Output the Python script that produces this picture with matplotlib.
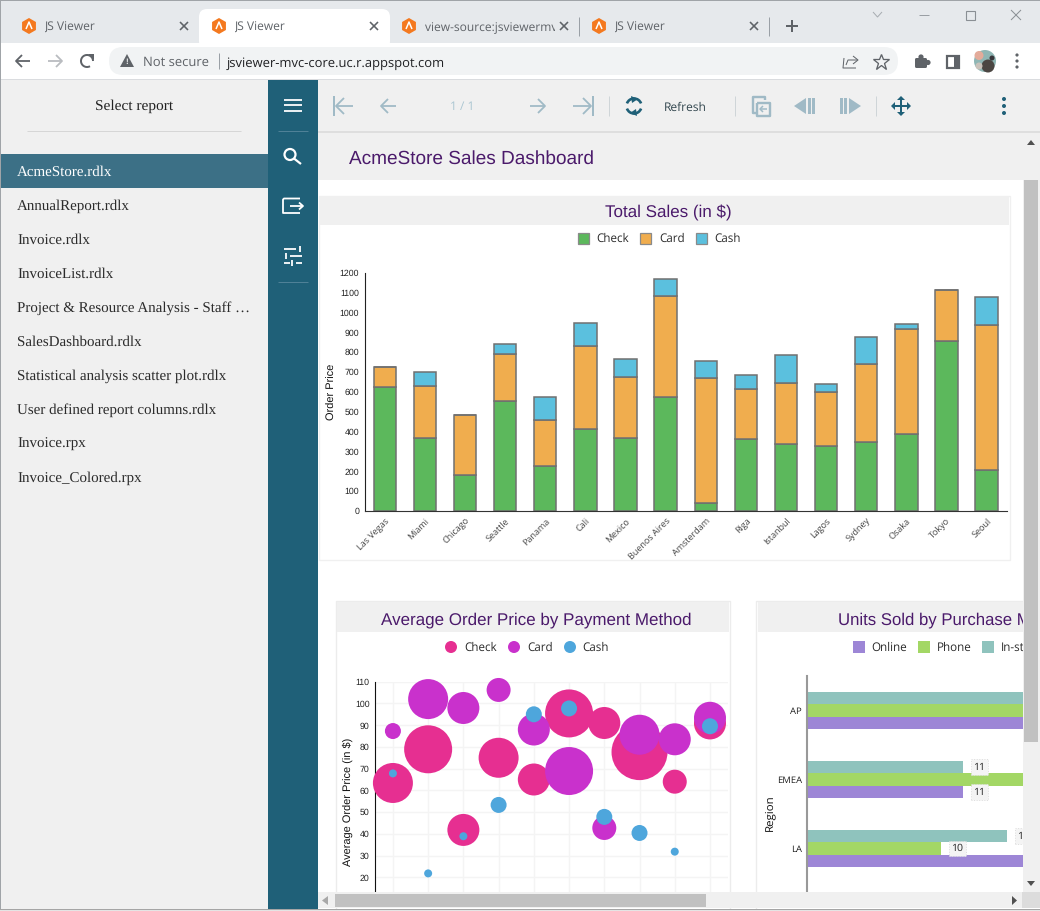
import matplotlib
matplotlib.use("Agg")
import matplotlib.pyplot as plt
from matplotlib.patches import Rectangle, FancyBboxPatch, Circle, Polygon, RegularPolygon, Arc

plt.rcParams["text.hinting"] = "no_hinting"

# ── Data ───────────────────────────────────────────────────────────────────
cities = ["Las Vegas", "Miami", "Chicago", "Seattle", "Panama", "Cali", "Mexico",
          "Buenos Aires", "Amsterdam", "Riga", "Istanbul", "Lagos", "Sydney",
          "Osaka", "Tokyo", "Seoul"]
sales_check = [622, 366, 181, 555, 226, 411, 366, 572, 42, 364, 337, 329, 347, 386, 854, 205]
sales_card = [104, 263, 304, 234, 232, 418, 310, 513, 629, 250, 306, 271, 395, 533, 257, 730]
sales_cash = [0, 72, 0, 51, 117, 116, 87, 83, 84, 69, 142, 41, 135, 24, 0, 144]
sales_series = ["Check", "Card", "Cash"]
sales_ticks = list(range(0, 1300, 100))

stores = [1, 2, 3, 4, 5, 6, 7, 8, 9, 10]
price_check = [63.4, 78.9, 41.8, 75.0, 65.0, 95.4, 91.0, 77.6, 64.0, 90.8]
size_check = [5, 6, 4, 5, 4, 6, 4, 7, 3, 4]
price_card = [87.3, 102.0, 97.9, 106.2, 88.0, 68.9, 42.7, 85.6, 83.5, 93.4]
size_card = [2, 5, 4, 3, 4, 6, 3, 5, 4, 4]
price_cash = [67.8, 21.8, 38.9, 53.3, 95.0, 97.7, 47.8, 40.4, 31.8, 89.5]
size_cash = [1, 1, 1, 2, 2, 2, 2, 2, 1, 2]
price_ticks = list(range(20, 120, 10))

regions = ["AP", "EMEA", "LA"]
units_series = ["Online", "Phone", "In-store"]
units_online = [18, 11, 14]
units_phone = [20, 15, 10]
units_instore = [16, 11, 13]

reports = ["AcmeStore.rdlx", "AnnualReport.rdlx", "Invoice.rdlx", "InvoiceList.rdlx",
           "Project & Resource Analysis - Staff …", "SalesDashboard.rdlx",
           "Statistical analysis scatter plot.rdlx", "User defined report columns.rdlx",
           "Invoice.rpx", "Invoice_Colored.rpx"]

# ── Canvas ─────────────────────────────────────────────────────────────────
W, H = 1040, 911
PX = 0.72  # one pixel in points at dpi 100
UI = "Open Sans"
SANS = "Liberation Sans"
SERIF = "Liberation Serif"
TEAL = "#1f6078"
FADED = "#a0bac6"
TITLE = "#4b1a6b"
GREY = "#5f6368"

fig = plt.figure(figsize=(W / 100, H / 100), dpi=100, facecolor="white")


def px_axes(l, t, r, b, zorder):
    return fig.add_axes([l / W, 1 - b / H, (r - l) / W, (b - t) / H], zorder=zorder)


bg = px_axes(0, 0, W, H, 0)
top = px_axes(0, 0, W, H, 6)
for a in (bg, top):
    a.set_xlim(0, W); a.set_ylim(H, 0); a.axis("off")
top.patch.set_alpha(0)


def rect(a, l, t, r, b, c, **kw):
    a.add_patch(Rectangle((l, t), r - l, b - t, facecolor=c, edgecolor="none", **kw))


def line(xs, ys, c, lw=1.5, a=bg, **kw):
    a.plot(xs, ys, color=c, lw=lw * PX, solid_capstyle=kw.pop("cap", "butt"), **kw)


def txt(x, y, s, size, c="#222222", fam=UI, ha="left", a=bg, **kw):
    # small shift down: browser text sits a little lower than va=center
    return a.text(x, y + 1.2, s, fontsize=size * PX, color=c, family=fam, ha=ha, va="center", **kw)


def arrow(x0, x1, y, c, lw=2, head=7, a=bg):
    # horizontal arrow pointing at x1
    d = head if x1 < x0 else -head
    line([x0, x1], [y, y], c, lw, a)
    line([x1 + d, x1, x1 + d], [y - head, y, y + head], c, lw, a)


# ── Browser chrome ─────────────────────────────────────────────────────────
rect(bg, 0, 0, W, 43, "#e6e9ec")
rect(bg, 0, 43, W, 79, "white")
bg.add_patch(FancyBboxPatch((199, 9), 191, 40, boxstyle="round,pad=0,rounding_size=8",
                            facecolor="white", edgecolor="none"))
rect(bg, 199, 43, 390, 50, "white")
bg.add_patch(FancyBboxPatch((109, 47), 789, 28, boxstyle="round,pad=0,rounding_size=14",
                            facecolor="#f1f3f4", edgecolor="none"))
rect(bg, 0, 79, W, 80, "#dadcdf")

for fx, tab_title, cx in [(29, "JS Viewer", 184), (219, "JS Viewer", 374),
                          (409, "view-source:jsviewermvc-core", 564), (599, "JS Viewer", 754)]:
    bg.add_patch(RegularPolygon((fx, 26), 6, radius=8, facecolor="#f4791f", edgecolor="none"))
    line([fx - 3, fx, fx + 3], [29, 22, 29], "white", 1.5)
    t = txt(fx + 16, 26.4, tab_title, 12, "#5f6368")
    t.set_clip_on(True)
    t.set_clip_path(Rectangle((fx + 16, 10), 130, 30, transform=bg.transData))
    line([cx - 4, cx + 4], [22, 30], GREY, 1.6)
    line([cx - 4, cx + 4], [30, 22], GREY, 1.6)
line([579, 579], [17, 36], "#9aa0a6", 1)
line([769, 769], [17, 36], "#9aa0a6", 1)
line([786, 798], [26, 26], GREY, 2)
line([792, 792], [20, 32], GREY, 2)
# window buttons
line([873, 877.5, 882], [12, 17, 12], "#a8adb2", 1)
line([919, 929], [15, 15], "#9a9fa4", 1)
bg.add_patch(Rectangle((965.5, 10.5), 9.5, 9.5, facecolor="none", edgecolor="#8a8f94", lw=0.8))
line([1011, 1021], [10, 20], "#8a8f94", 1)
line([1011, 1021], [20, 10], "#8a8f94", 1)

arrow(30, 16, 61, GREY, 1.8, 6)
arrow(48, 62, 61, "#b9bcc0", 1.8, 6)
bg.add_patch(Arc((87, 61), 12, 12, theta1=-300, theta2=0, color=GREY, lw=1.8 * PX * 1.1))
bg.add_patch(Polygon([[88, 54], [94, 54], [94, 60]], facecolor=GREY, edgecolor="none"))
bg.add_patch(Polygon([[120, 67], [134, 67], [127, 54]], facecolor=GREY, edgecolor="none"))
txt(127, 60.5, "!", 8, "#f1f3f4", fam=SANS, ha="center", weight="bold")
txt(143, 61, "Not secure", 13, GREY)
line([218.5, 218.5], [53, 69], "#9aa0a6", 1)
txt(227, 62, "jsviewer-mvc-core.uc.r.appspot.com", 13, "#202124")
# share, star, puzzle, side panel, avatar, menu
line([844, 843, 856], [58, 68, 68], GREY, 1)
line([846, 848, 857], [65, 60, 60], GREY, 1)
line([853, 858, 853], [56, 60, 64], GREY, 1)
bg.plot([881], [61.5], marker="*", ms=13 * PX * 1.3, mfc="none", mec=GREY, mew=1 * PX * 1.3)
bg.add_patch(FancyBboxPatch((915, 58), 12, 10, boxstyle="round,pad=0,rounding_size=1.5",
                            facecolor=GREY, edgecolor="none"))
bg.add_patch(Circle((921, 57), 2.6, facecolor=GREY, edgecolor="none"))
bg.add_patch(Circle((928, 62.5), 2.6, facecolor=GREY, edgecolor="none"))
bg.add_patch(Rectangle((947, 56), 12, 12, facecolor="white", edgecolor=GREY, lw=2 * PX * 1.1))
rect(bg, 954, 56, 960, 68, GREY)
bg.add_patch(Circle((985, 61), 11, facecolor="#8fb6b4", edgecolor="none"))
bg.add_patch(Circle((979, 55.5), 4.5, facecolor="#e3ab9a", edgecolor="none"))
bg.add_patch(Circle((988, 66), 6.5, facecolor="#4b4642", edgecolor="none"))
bg.add_patch(Circle((979, 66), 3.5, facecolor="#c9c2ba", edgecolor="none"))
bg.add_patch(Circle((992, 58), 2.5, facecolor="#39363a", edgecolor="none"))
for dy in (55, 61, 67):
    bg.add_patch(Circle((1017, dy), 1.6, facecolor=GREY, edgecolor="none"))

# ── Sidebar ────────────────────────────────────────────────────────────────
rect(bg, 0, 80, 268, H, "#f0f0f0")
txt(134.5, 105, "Select report", 15.4, "#222222", fam=SERIF, ha="center")
line([27, 241], [130.5, 130.5], "#d6d6d6", 1)
rect(bg, 1, 154, 268, 188, "#3c7086")
for i, name in enumerate(reports):
    txt(17, 171 + i * 34, name, 15, "white" if i == 0 else "#2b2b2b", fam=SERIF)

# ── Nav column ─────────────────────────────────────────────────────────────
rect(bg, 268, 80, 318, H, TEAL)
for y in (99.5, 105, 110.5):
    line([284, 302], [y, y], "white", 1.8)
line([278, 308], [130.5, 130.5], "#4f8197", 1)
bg.add_patch(Circle((290, 154.5), 5.5, facecolor="none", edgecolor="white", lw=2 * PX * 1.1))
line([294, 301], [158.5, 164], "white", 2.2)
line([300, 284, 283, 283, 300], [198.5, 198.5, 199.5, 213, 213], "white", 1.8)
line([290, 302], [206, 206], "white", 1.8)
line([299, 303, 299], [202.5, 206, 209.5], "white", 1.8)
for y, x0, x1, stub in [(249, 284, 296, 300), (256, 290, 302, 286), (263, 296, 302, 292)]:
    line([x0, x1], [y, y], "white", 1.8)
    line([stub, stub], [y - 3, y + 3], "white", 1.8)
line([284, 290], [263, 263], "white", 1.8)
line([278, 308], [281.5, 281.5], "#4f8197", 1)

# ── Viewer toolbar ─────────────────────────────────────────────────────────
rect(bg, 318, 80, W, 180, "#f0f0f0")
rect(bg, 318, 131, W, 133, "#dedede")
line([334, 334], [96, 116], FADED, 2)
arrow(353, 336, 106, FADED, 1.8, 8)
arrow(396, 381, 106, FADED, 1.8, 7)
txt(462.5, 106, "1 / 1", 12, "#abc6d2", ha="center")
arrow(530, 545, 106, FADED, 1.8, 7)
arrow(573, 591, 106, FADED, 1.8, 8)
line([592.5, 592.5], [96, 116], FADED, 2)
for x in (608.5, 734.5, 875.5):
    line([x, x], [96, 116], "#cfd5d8", 1)
bg.add_patch(Arc((634, 106), 15, 15, theta1=20, theta2=160, color=TEAL, lw=2.2 * PX * 1.2))
bg.add_patch(Arc((634, 106), 15, 15, theta1=200, theta2=340, color=TEAL, lw=2.2 * PX * 1.2))
bg.add_patch(Polygon([[631, 96], [638, 99], [632, 103]], facecolor=TEAL, edgecolor="none"))
bg.add_patch(Polygon([[637, 116], [630, 113], [636, 109]], facecolor=TEAL, edgecolor="none"))
txt(664, 106.5, "Refresh", 12, "#33474f")
# export pages icon
line([765, 765, 753, 753, 757], [100, 97, 97, 113, 113], FADED, 2.4)
line([757, 757, 770, 770, 757], [103, 116, 116, 103, 103], FADED, 2.4)
arrow(767, 760, 109, FADED, 1.5, 3)
bg.add_patch(Polygon([[794, 106], [806, 98], [806, 114]], facecolor=FADED, edgecolor="none"))
rect(bg, 808, 98, 811, 114, FADED)
rect(bg, 812, 98, 815, 114, FADED)
rect(bg, 840, 98, 843, 114, FADED)
rect(bg, 844, 98, 847, 114, FADED)
bg.add_patch(Polygon([[861, 106], [849, 98], [849, 114]], facecolor=FADED, edgecolor="none"))
line([892, 910], [106, 106], TEAL, 2)
line([901, 901], [97, 115], TEAL, 2)
for pts in ([[891, 106], [895, 102], [895, 110]], [[911, 106], [907, 102], [907, 110]],
            [[901, 96], [897, 100], [905, 100]], [[901, 116], [897, 112], [905, 112]]):
    bg.add_patch(Polygon(pts, facecolor=TEAL, edgecolor="none"))
for y in (99, 106, 113):
    bg.add_patch(Circle((1004, y), 2, facecolor=TEAL, edgecolor="none"))

# ── Report page ────────────────────────────────────────────────────────────
rect(bg, 318, 180, W, H, "white")
txt(349, 158, "AcmeStore Sales Dashboard", 19, TITLE, fam=SANS)

# panels: border + header
bg.add_patch(Rectangle((319, 195.5), 690.5, 364, facecolor="white", edgecolor="#f0f0f0", lw=1))
rect(bg, 320, 197, 1009, 225, "#f0f0f0")
bg.add_patch(Rectangle((335.5, 601), 394, 330, facecolor="white", edgecolor="#ececec", lw=1))
rect(bg, 337, 602, 729, 631.5, "#f0f0f0")
bg.add_patch(Rectangle((755.5, 601), 400, 330, facecolor="white", edgecolor="#ececec", lw=1))
rect(bg, 758, 602, W, 631.5, "#f0f0f0")
txt(668, 212, "Total Sales (in $)", 17, TITLE, fam=SANS, ha="center")
txt(536, 619, "Average Order Price by Payment Method", 17, TITLE, fam=SANS, ha="center")
txt(838, 619, "Units Sold by Purchase Method", 16.8, TITLE, fam=SANS)

sales_colors = ["#5cb85c", "#f0ad4e", "#5bc0de"]
bubble_colors = ["#e62f91", "#c931cc", "#4ea6dc"]
units_colors = ["#9d86d6", "#a3d765", "#8fc3bd"]

# legends
for name, c, sx, tx in zip(sales_series, sales_colors, (577.5, 640, 695.5), (596, 659, 714)):
    bg.add_patch(Rectangle((sx, 232.5), 11, 11, facecolor=c, edgecolor="#8a8a8a", lw=0.9))
    txt(tx, 238, name, 11.6, "#2b2b2b")
for name, c, cx, tx in zip(sales_series, bubble_colors, (451, 514, 570), (464, 527, 582)):
    bg.add_patch(Circle((cx, 647), 6, facecolor=c, edgecolor="none"))
    txt(tx, 647, name, 11.6, "#2b2b2b")
for name, c, sx, tx in zip(units_series, units_colors, (853, 918, 982), (871, 937, 1001)):
    rect(bg, sx, 641, sx + 11.5, 652.5, c)
    txt(tx, 647, name, 11.6, "#2b2b2b")

# ── Total sales: stacked columns ───────────────────────────────────────────
ax = px_axes(364.7, 272.7, 1006.7, 511, 2)
ax.patch.set_alpha(0)
bottom = [0] * len(cities)
for vals, c in zip((sales_check, sales_card, sales_cash), sales_colors):
    ax.bar(range(len(cities)), vals, 0.56, bottom=bottom, color=c,
           edgecolor="#707070", linewidth=1.1)
    bottom = [b + v for b, v in zip(bottom, vals)]
ax.set_xlim(-0.5, len(cities) - 0.5)
ax.set_ylim(0, 1200)
ax.set_yticks(sales_ticks)
ax.tick_params(length=0, labelsize=8.8 * PX, pad=4, labelcolor="#222222")
ax.set_xticks(range(len(cities)))
ax.set_xticklabels(cities, rotation=45, ha="right", rotation_mode="anchor", family=UI,
                   fontsize=9 * PX, color="#3f3f3f")
for lab in ax.get_yticklabels():
    lab.set_family(SANS)
for s in ("top", "right"):
    ax.spines[s].set_visible(False)
ax.spines["left"].set_color("#222222")
ax.spines["bottom"].set_color("#333333")
ax.set_ylabel("Order Price", family=SANS, fontsize=11 * PX, color="#111111")
ax.yaxis.set_label_coords(-(364.7 - 337) / 642, 0.5)

# ── Average order price: bubbles ───────────────────────────────────────────
ax = px_axes(375.3, 681.7, 727.6, 892, 2)
ax.patch.set_alpha(0)
ax.set_xlim(0.5, 10.5)
ax.set_ylim(20 - (892 - 877.3) / 2.174, 110)
for vals, sizes, c in zip((price_check, price_card, price_cash),
                          (size_check, size_card, size_cash), bubble_colors):
    # one size unit is a radius of 4 px on screen
    ax.scatter(stores, vals, s=[(2 * 4 * z * PX) ** 2 for z in sizes], color=c,
               linewidths=0, clip_on=False, zorder=3)
ax.set_xticks(stores)
ax.set_yticks(price_ticks)
ax.grid(color="#f4f4f4", lw=1)
ax.set_axisbelow(True)
ax.tick_params(length=0, labelbottom=False, labelsize=8.8 * PX, pad=4, labelcolor="#222222")
for lab in ax.get_yticklabels():
    lab.set_family(SANS)
for s in ("top", "right", "bottom"):
    ax.spines[s].set_visible(False)
ax.spines["left"].set_color("#111111")
ax.set_ylabel("Average Order Price (in $)", family=SANS, fontsize=11 * PX, color="#111111")
ax.yaxis.set_label_coords(-(375.3 - 353) / 352.3, (892 - 801.7) / (892 - 681.7))

# ── Units sold: grouped horizontal bars ────────────────────────────────────
ax = px_axes(807, 676, 1023, 892, 2)
ax.patch.set_alpha(0)
ax.set_xlim(3.9, 3.9 + 216 / 22)
ax.set_ylim(2.63, -0.5)
bar_h = 12.6 / 69
for vals, c, off in zip((units_online, units_phone, units_instore), units_colors,
                        (bar_h, 0, -bar_h)):
    ypos = [i + off for i in range(len(regions))]
    ax.barh(ypos, vals, bar_h, color=c, edgecolor="none")
    for y, v in zip(ypos, vals):
        if v <= 13:
            ax.annotate(str(v), (v, y), xytext=(16 * PX, 0), textcoords="offset points",
                        ha="center", va="center", family=UI, fontsize=10.5 * PX, color="#222222",
                        annotation_clip=False,
                        bbox=dict(boxstyle="square,pad=0.25", fc="#f4f4f4", ec="#dddddd",
                                  ls=":", lw=0.7))
ax.set_yticks(range(len(regions)))
ax.set_yticklabels(regions, family=UI, fontsize=9.5 * PX, color="#222222")
ax.tick_params(length=0, labelbottom=False, pad=3.5)
ax.set_xticks([])
for s in ("top", "right", "bottom"):
    ax.spines[s].set_visible(False)
ax.spines["left"].set_color("#999999")
ax.spines["left"].set_linewidth(1.5)
ax.set_ylabel("Region", family=UI, fontsize=11.5 * PX, color="#111111")
ax.yaxis.set_label_coords(-(807 - 774.5) / 216, (892 - 813) / 216)

# ── Scrollbars go over the charts ──────────────────────────────────────────
rect(top, 1023, 133, W, 892, "#f0f0f0")
rect(top, 1024, 180, 1038, 742, "#c1c1c1")
rect(top, 318, 892, W, 908, "#f0f0f0")
rect(top, 335, 894, 706, 907, "#c1c1c1")
rect(top, 1022, 892, W, 908, "#dcdcdc")
top.add_patch(Polygon([[1027, 145], [1035, 145], [1031, 140]], facecolor="#505050", edgecolor="none"))
top.add_patch(Polygon([[1027, 881], [1035, 881], [1031, 886]], facecolor="#505050", edgecolor="none"))
top.add_patch(Polygon([[328, 896], [328, 905], [322, 900.5]], facecolor="#a8a8a8", edgecolor="none"))
top.add_patch(Polygon([[1012, 896], [1012, 905], [1017, 900.5]], facecolor="#505050", edgecolor="none"))
rect(top, 0, 0, W, 1, "#a0a4a8")
rect(top, 0, 0, 1, H, "#a0a4a8")
rect(top, 0, 908.5, W, 910, "#a5a5a5")
rect(top, 0, 910, W, H, "#e4e4e4")

fig.savefig("out.png", dpi=100, facecolor="white")
